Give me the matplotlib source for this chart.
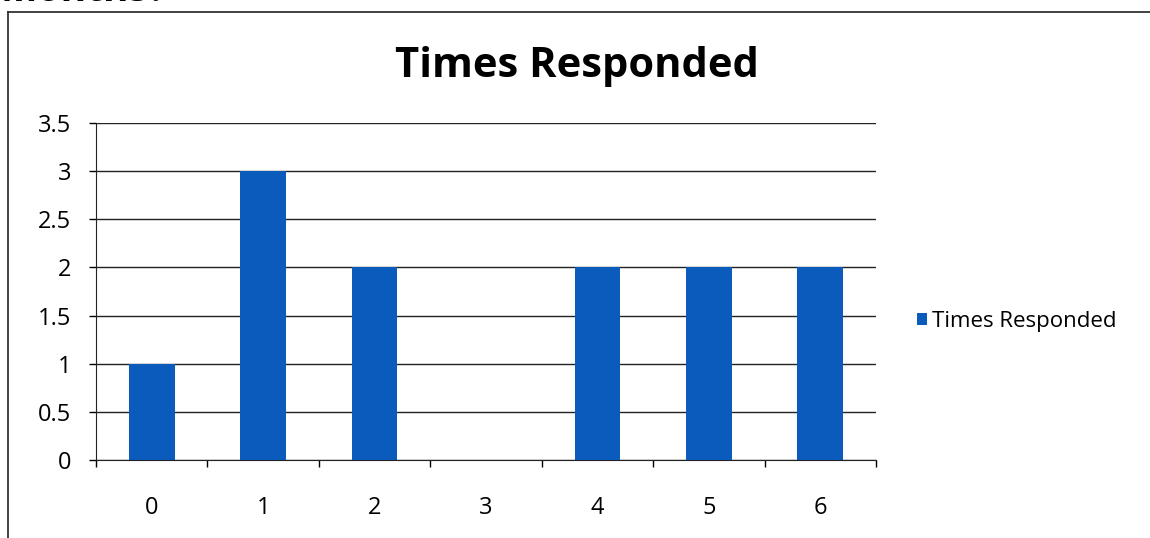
import matplotlib
matplotlib.use("Agg")
import matplotlib.pyplot as plt
from matplotlib.lines import Line2D

categories = ["0", "1", "2", "3", "4", "5", "6"]
values = [1, 3, 2, 0, 2, 2, 2]
yticks = [0, 0.5, 1, 1.5, 2, 2.5, 3, 3.5]
series_name = "Times Responded"
title = "Times Responded"

plt.rcParams['font.family'] = ['Open Sans', 'DejaVu Sans']

W, H = 1150, 538
fig = plt.figure(figsize=(W / 100, H / 100), dpi=100)
fig.patch.set_facecolor('white')

# outer frame of the chart area
fig.add_artist(Line2D([8 / W, 8 / W], [0, 1 - 12 / H], transform=fig.transFigure, color='#333333', lw=1.3))
fig.add_artist(Line2D([8 / W, 1], [1 - 12 / H, 1 - 12 / H], transform=fig.transFigure, color='#333333', lw=1.3))

# cropped question text at the top
fig.text(0.0, 1 - 1 / H, "Months?", fontsize=28, fontweight='bold', va='baseline', ha='left')

ax = fig.add_axes([96 / W, 1 - 460 / H, (876 - 96) / W, (460 - 123) / H])
x = list(range(len(categories)))
ax.bar(x, values, width=0.41, color='#0b5bbd', label=series_name, zorder=3)

ax.set_xlim(-0.5, len(categories) - 0.5)
ax.set_ylim(0, 3.5)
ax.set_yticks(yticks)
ax.set_yticklabels([f"{t:g}" for t in yticks], fontsize=17)
ax.set_xticks(x)
ax.set_xticklabels(categories, fontsize=17)
ax.tick_params(axis='x', length=0, pad=26)
ax.tick_params(axis='y', length=5, width=1, pad=13)
# category boundary ticks
ax.set_xticks([i - 0.5 for i in range(len(categories) + 1)], minor=True)
ax.tick_params(axis='x', which='minor', length=5, width=1, direction='out')

ax.grid(axis='y', color='#222222', lw=1, zorder=0)
for side in ['top', 'right']:
    ax.spines[side].set_visible(False)
ax.spines['left'].set_color('#222222')
ax.spines['bottom'].set_color('#222222')

fig.text(577 / W, 1 - 66 / H, title, fontsize=30, fontweight='bold', ha='center', va='center')

ax.legend(loc='center left', bbox_to_anchor=(1.027, 0.41), frameon=False,
          fontsize=16, handlelength=0.45, handleheight=0.45, handletextpad=0.2)

fig.savefig("out.png", dpi=100, facecolor='white')
